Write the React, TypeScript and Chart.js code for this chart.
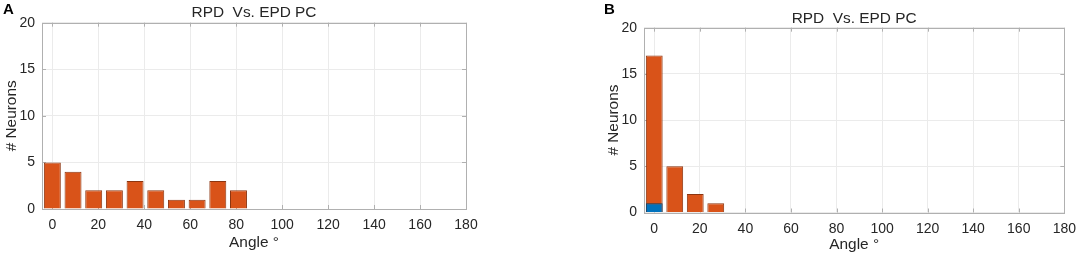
import React, { useEffect, useRef } from "react";
import { Chart, registerables } from "chart.js";

Chart.register(...registerables);

// ---- data ----
const binCentersA = [0, 9, 18, 27, 36, 45, 54, 63, 72, 81];
const countsA = [5, 4, 2, 2, 3, 2, 1, 1, 3, 2];

const binCentersB = [0, 9, 18, 27];
const countsBOrange = [17, 5, 2, 1];
const binCentersBBlue = [0];
const countsBBlue = [1];

const xTickValues = [0, 20, 40, 60, 80, 100, 120, 140, 160, 180];
const yTickValues = [0, 5, 10, 15, 20];

const titleText = "RPD  Vs. EPD PC";
const xTitle = "Angle \u00B0";
const yTitle = "# Neurons";

const ORANGE = "#D95319";
const ORANGE_EDGE = "#8c3510";
const BLUE = "#0072BD";
const BLUE_EDGE = "#0b3f66";
const AXIS = "#b0b0b0";
const GRID = "#ebebeb";
const TEXT = "#262626";
const FONT = "'Liberation Sans', Arial, Helvetica, sans-serif";
const TICK_SIZE = 14;
const LABEL_SIZE = 15.4;

Chart.defaults.font.family = FONT;

const framePlugin = {
  id: "frame",
  beforeDatasetsDraw(chart: any) {
    const { ctx, chartArea, scales } = chart;
    const { left, right, top, bottom } = chartArea;
    const x = scales.x;
    const y = scales.y;
    const L = 4;
    ctx.save();
    ctx.strokeStyle = AXIS;
    ctx.lineWidth = 1;
    ctx.beginPath();
    xTickValues.forEach((v) => {
      const px = Math.round(x.getPixelForValue(v)) + 0.5;
      ctx.moveTo(px, bottom);
      ctx.lineTo(px, bottom - L);
      ctx.moveTo(px, top);
      ctx.lineTo(px, top + L);
    });
    yTickValues.forEach((v) => {
      const py = Math.round(y.getPixelForValue(v)) + 0.5;
      ctx.moveTo(left, py);
      ctx.lineTo(left + L, py);
      ctx.moveTo(right, py);
      ctx.lineTo(right - L, py);
    });
    ctx.stroke();
    ctx.restore();
  },
  afterDatasetsDraw(chart: any) {
    const { ctx, chartArea } = chart;
    const { left, right, top, bottom } = chartArea;
    ctx.save();
    ctx.strokeStyle = AXIS;
    ctx.lineWidth = 1;
    ctx.strokeRect(
      Math.round(left) + 0.5,
      Math.round(top) + 0.5,
      Math.round(right) - Math.round(left),
      Math.round(bottom) - Math.round(top)
    );
    ctx.restore();
  },
};

type Layout = {
  padLeft: number;
  padRight: number;
  titlePadTop: number;
  titlePadBottom: number;
  xAxisHeight: number;
  xTickPad: number;
  xTitlePadBottom: number;
};

function makeConfig(datasets: any[], lay: Layout): any {
  return {
    type: "bar",
    data: { datasets },
    plugins: [framePlugin],
    options: {
      animation: false,
      responsive: false,
      maintainAspectRatio: false,
      events: [],
      layout: { padding: { left: lay.padLeft, right: lay.padRight, top: 0, bottom: 0 } },
      plugins: {
        legend: { display: false },
        tooltip: { enabled: false },
        title: {
          display: true,
          text: titleText,
          color: TEXT,
          fullSize: false,
          font: { size: LABEL_SIZE, weight: "normal", family: FONT },
          padding: { top: lay.titlePadTop, bottom: lay.titlePadBottom },
        },
      },
      datasets: { bar: { categoryPercentage: 1, barPercentage: 0.82 } },
      scales: {
        x: {
          type: "linear",
          min: -4.5,
          max: 180,
          offset: false,
          stacked: true,
          grid: { color: GRID, drawTicks: false, offset: false },
          border: { display: false },
          afterBuildTicks: (s: any) => {
            s.ticks = xTickValues.map((v) => ({ value: v }));
          },
          afterFit: (s: any) => {
            s.height = lay.xAxisHeight;
          },
          ticks: {
            color: TEXT,
            font: { size: TICK_SIZE, family: FONT },
            padding: lay.xTickPad,
            maxRotation: 0,
            autoSkip: false,
          },
          title: {
            display: true,
            text: xTitle,
            color: TEXT,
            font: { size: LABEL_SIZE, family: FONT },
            padding: { top: 0, bottom: lay.xTitlePadBottom },
          },
        },
        y: {
          type: "linear",
          min: 0,
          max: 20,
          stacked: false,
          grid: { color: GRID, drawTicks: false },
          border: { display: false },
          afterBuildTicks: (s: any) => {
            s.ticks = yTickValues.map((v) => ({ value: v }));
          },
          afterFit: (s: any) => {
            s.width = 42;
          },
          ticks: {
            color: TEXT,
            font: { size: TICK_SIZE, family: FONT },
            padding: 7,
          },
          title: {
            display: true,
            text: yTitle,
            color: TEXT,
            font: { size: LABEL_SIZE, family: FONT },
            padding: { top: 3, bottom: 0 },
          },
        },
      },
    },
  };
}

function HistChart(props: {
  datasets: any[];
  lay: Layout;
  left: number;
  width: number;
  label: string;
  labelLeft: number;
}) {
  const ref = useRef<HTMLCanvasElement | null>(null);
  useEffect(() => {
    if (!ref.current) return;
    const chart = new Chart(ref.current, makeConfig(props.datasets, props.lay));
    return () => chart.destroy();
  }, []);
  return (
    <div style={{ position: "absolute", left: props.left, top: 0, width: props.width, height: 260 }}>
      <canvas ref={ref} width={props.width} height={260} style={{ width: props.width, height: 260, display: "block" }} />
      <div
        style={{
          position: "absolute",
          left: props.labelLeft,
          top: 1,
          font: `bold 15px ${FONT}`,
          lineHeight: "15px",
          color: "#000",
        }}
      >
        {props.label}
      </div>
    </div>
  );
}

export default function App() {
  const dsA = [
    {
      data: binCentersA.map((x, i) => ({ x, y: countsA[i] })),
      backgroundColor: ORANGE,
      borderColor: ORANGE_EDGE,
      borderWidth: 1,
    },
  ];
  const dsB = [
    {
      data: binCentersBBlue.map((x, i) => ({ x, y: countsBBlue[i] })),
      backgroundColor: BLUE,
      borderColor: BLUE_EDGE,
      borderWidth: 1,
    },
    {
      data: binCentersB.map((x, i) => ({ x, y: countsBOrange[i] })),
      backgroundColor: ORANGE,
      borderColor: ORANGE_EDGE,
      borderWidth: 1,
    },
  ];
  const layA: Layout = {
    padLeft: 0,
    padRight: 74,
    titlePadTop: 3.5,
    titlePadBottom: 0.7,
    xAxisHeight: 51,
    xTickPad: 7.5,
    xTitlePadBottom: 8.3,
  };
  const layB: Layout = {
    padLeft: 60,
    padRight: 16,
    titlePadTop: 9.2,
    titlePadBottom: 0,
    xAxisHeight: 47.5,
    xTickPad: 8,
    xTitlePadBottom: 6.3,
  };
  return (
    <div style={{ position: "absolute", left: 0, top: 0, width: 1084, height: 260, background: "#fff" }}>
      <HistChart datasets={dsA} lay={layA} left={0} width={540} label="A" labelLeft={3} />
      <HistChart datasets={dsB} lay={layB} left={542} width={542} label="B" labelLeft={62} />
    </div>
  );
}
